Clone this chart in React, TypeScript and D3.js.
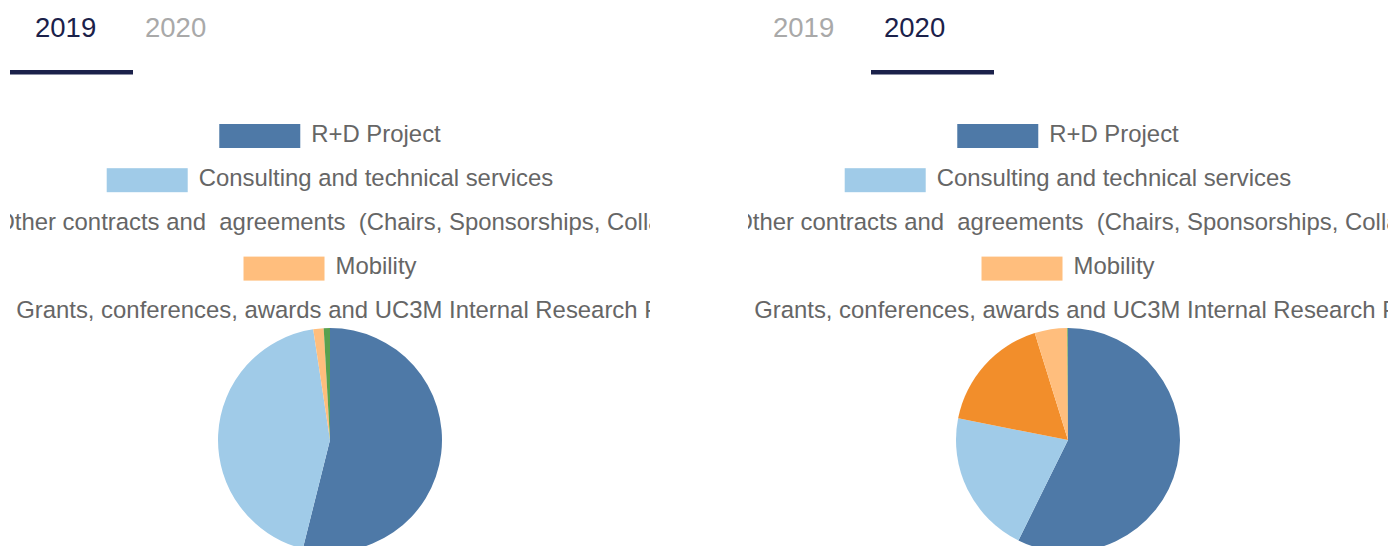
import React, { useRef, useEffect } from 'react';
import * as d3 from 'd3';

// Categories, in legend / slice order
const categories = [
  'R+D Project',
  'Consulting and technical services',
  'Other contracts and  agreements  (Chairs, Sponsorships, Collaboration)',
  'Mobility',
  'Grants, conferences, awards and UC3M Internal Research Program',
];

// Share of each category (%) per year
const values2019 = [53.9, 43.7, 0, 1.5, 0.9];
const values2020 = [57.3, 20.8, 17.1, 4.7, 0.1];

const years = ['2019', '2020'];

const colors = ['#4e79a7', '#a0cbe8', '#f28e2b', '#ffbe7d', '#59a14f'];

interface PanelProps {
  activeYear: number;
  values: number[];
}

const Panel: React.FC<PanelProps> = ({ activeYear, values }) => {
  const gRef = useRef<SVGGElement | null>(null);

  useEffect(() => {
    if (!gRef.current) return;
    const g = d3.select(gRef.current);
    g.selectAll('*').remove();

    const panelWidth = 640;
    const cx = panelWidth / 2;

    // Tabs
    const tabX = activeYear === 0 ? [25, 135] : [25, 136];
    years.forEach((yr, i) => {
      g.append('text')
        .attr('x', tabX[i])
        .attr('y', 36.5)
        .attr('font-family', 'Liberation Sans, Arial, sans-serif')
        .attr('font-size', 27.5)
        .attr('fill', i === activeYear ? '#1b214a' : '#a9a9a9')
        .text(yr);
    });
    g.append('rect')
      .attr('x', activeYear * 123)
      .attr('y', 70)
      .attr('width', 123)
      .attr('height', 4.5)
      .attr('fill', '#1b214a');

    // Legend, clipped to panel
    const clipId = `clip-${activeYear}`;
    g.append('clipPath')
      .attr('id', clipId)
      .append('rect')
      .attr('x', 0)
      .attr('y', 90)
      .attr('width', panelWidth)
      .attr('height', 240);

    const legend = g.append('g').attr('clip-path', `url(#${clipId})`);
    const swW = 81;
    const swH = 24;
    const gap = 11;
    categories.forEach((cat, i) => {
      const rowY = 124 + i * 44.2;
      const row = legend.append('g');
      const t = row
        .append('text')
        .attr('y', rowY + 17.5)
        .attr('font-family', 'Liberation Sans, Arial, sans-serif')
        .attr('font-size', 23.9)
        .attr('fill', '#666666')
        .style('white-space', 'pre')
        .text(cat);
      const tw = (t.node() as SVGTextElement).getComputedTextLength();
      const total = swW + gap + tw;
      const left = cx - total / 2;
      row
        .append('rect')
        .attr('x', left)
        .attr('y', rowY)
        .attr('width', swW)
        .attr('height', swH)
        .attr('fill', colors[i]);
      t.attr('x', left + swW + gap);
    });

    // Pie
    const radius = 112;
    const pie = d3
      .pie<number>()
      .sort(null)
      .value(d => d);
    const arc = d3
      .arc<d3.PieArcDatum<number>>()
      .innerRadius(0)
      .outerRadius(radius);
    g.append('g')
      .attr('transform', `translate(${cx},440)`)
      .selectAll('path')
      .data(pie(values))
      .enter()
      .append('path')
      .attr('d', arc)
      .attr('fill', (_, i) => colors[i]);
  }, [activeYear, values]);

  return <g ref={gRef}></g>;
};

const App: React.FC = () => {
  return (
    <svg
      width={1394}
      height={546}
      style={{ position: 'absolute', left: 0, top: 0, background: '#fff' }}
    >
      <g transform="translate(10,0)">
        <Panel activeYear={0} values={values2019} />
      </g>
      <g transform="translate(748,0)">
        <Panel activeYear={1} values={values2020} />
      </g>
    </svg>
  );
};

export default App;
